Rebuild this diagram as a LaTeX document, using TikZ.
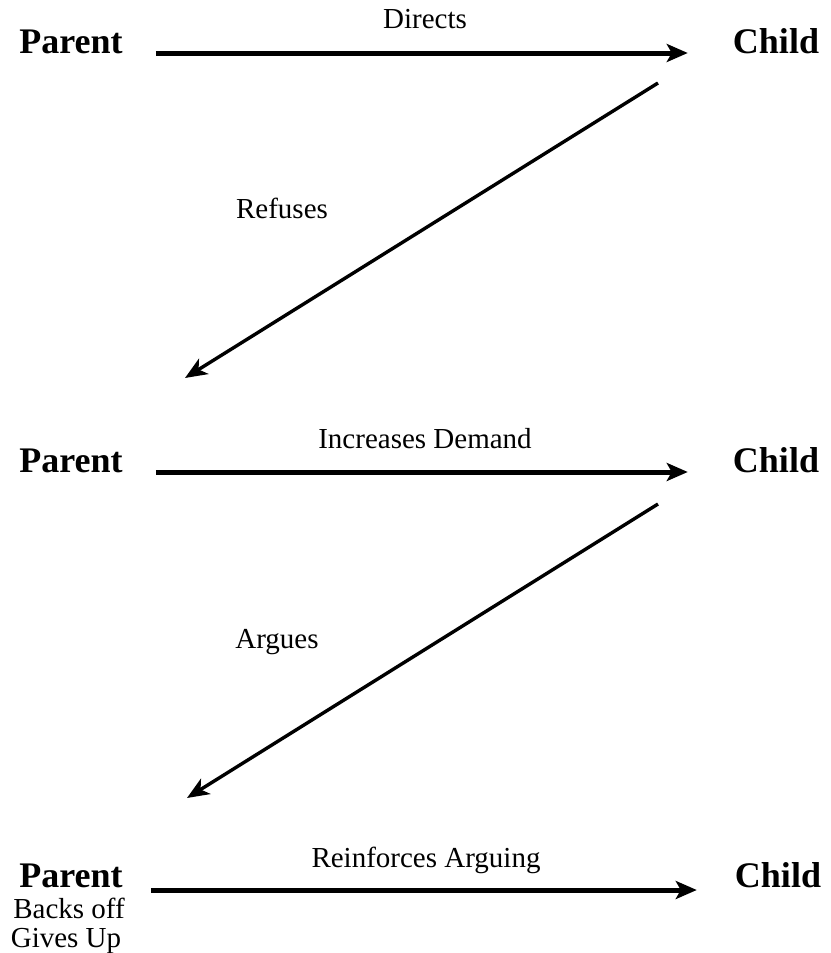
\documentclass[tikz,border=0pt]{standalone}
\usepackage{fontspec}
\setmainfont{Liberation Serif}
\usetikzlibrary{arrows.meta}
\tikzset{
  who/.style={font=\fontsize{36}{40}\selectfont\bfseries, inner sep=0pt, anchor=base},
  act/.style={font=\fontsize{29}{32}\selectfont, inner sep=0pt, anchor=base},
  flow/.style={line width=5pt, -{Stealth[length=21pt,width=18pt,inset=5pt]}},
  back/.style={line width=3.4pt, -{Stealth[length=22pt,width=18pt,inset=6pt]}},
}
\begin{document}
\begin{tikzpicture}[x=1pt,y=-1pt]
  \useasboundingbox (0,0) rectangle (830,953);

  % row 1
  \node[who] (p1) at (71,53) {Parent};
  \node[who] (c1) at (776,53) {Child};
  \node[act] (l1) at (425,28) {Directs};
  \draw[flow] ([xshift=33pt]p1.base east) -- ([xshift=-45pt]c1.base west);

  % refusal
  \coordinate (r1a) at (658,83);
  \coordinate (r1b) at (185,378);
  \draw[back] (r1a) -- (r1b);
  \node[act] (l2) at (282,218) {Refuses};

  % row 2
  \node[who] (p2) at (71,472) {Parent};
  \node[who] (c2) at (776,472) {Child};
  \node[act] (l3) at (425,448) {Increases Demand};
  \draw[flow] ([xshift=33pt]p2.base east) -- ([xshift=-45pt]c2.base west);

  % arguing
  \coordinate (r2a) at (658,504);
  \coordinate (r2b) at (187,798);
  \draw[back] (r2a) -- (r2b);
  \node[act] (l4) at (277,648) {Argues};

  % row 3
  \node[who] (p3) at (71,887) {Parent};
  \node[who] (c3) at (778,887) {Child};
  \node[act] (l5) at (426,867) {Reinforces Arguing};
  \node[act] (n1) at (69,918) {Backs off};
  \node[act] (n2) at (66,947) {Gives Up};
  \draw[flow] ([xshift=28pt,yshift=-3pt]p3.base east) -- ([xshift=-38pt,yshift=-3pt]c3.base west);
\end{tikzpicture}
\end{document}
